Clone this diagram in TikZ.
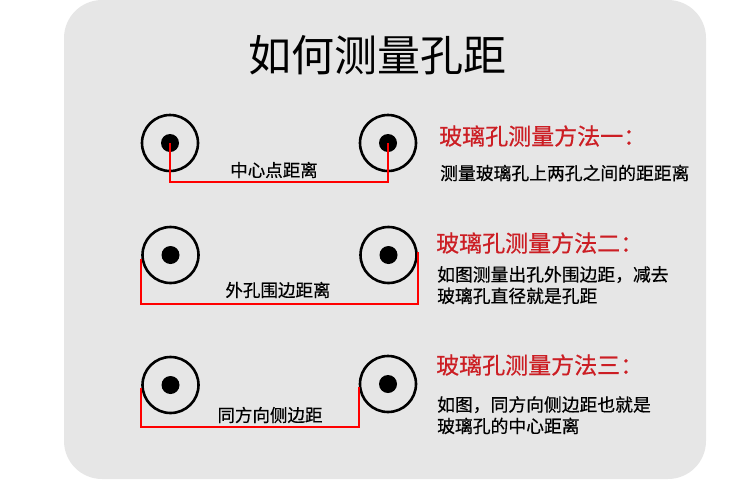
\documentclass[tikz,border=0pt]{standalone}
\usepackage{fontspec}
\newfontfamily\cjk{Noto Sans CJK SC}
\newfontfamily\cjkm[FakeBold=0.5]{Noto Sans CJK SC}
\definecolor{bgray}{HTML}{E6E6E6}
\definecolor{headred}{HTML}{CC1E24}
\definecolor{linered}{HTML}{FF0000}
\begin{document}
\begin{tikzpicture}[x=1pt,y=-1pt,
  hole/.style={circle,draw=black,line width=2.6pt,minimum size=56pt,inner sep=0pt},
  dot/.style={circle,fill=black,minimum size=18pt,inner sep=0pt},
  redline/.style={draw=linered,line width=1.8pt},
  lbl/.style={font=\cjkm\fontsize{17.5}{19}\selectfont,text=black,inner sep=0pt},
  head/.style={font=\cjkm\fontsize{23}{25}\selectfont,text=headred,anchor=west,inner sep=0pt},
  body/.style={font=\cjkm\fontsize{17.8}{21.5}\selectfont,text=black,anchor=west,inner sep=0pt,align=left}]
\useasboundingbox (0,0) rectangle (750,496);
\fill[bgray,rounded corners=38pt] (64,0) rectangle (706,479);
\node[font=\cjk\fontsize{43}{46}\selectfont,inner sep=0pt] (title) at (377,55) {如何测量孔距};
% row 1
\node[hole] (c1a) at (170,143) {};
\node[dot] (d1a) at (c1a.center) {};
\node[hole] (c1b) at (388,143) {};
\node[dot] (d1b) at (c1b.center) {};
\coordinate (b1) at (170,182);
\draw[redline] (d1a.center) -- (b1) -| (d1b.center);
\node[lbl] (l1) at (274,170) {中心点距离};
% row 2
\node[hole] (c2a) at (170.5,255) {};
\node[dot] (d2a) at (c2a.center) {};
\node[hole] (c2b) at (388.5,255) {};
\node[dot] (d2b) at (c2b.center) {};
\coordinate (b2) at (c2a.west |- 0,304);
\draw[redline] ([yshift=-4pt]c2a.west) -- (b2) -| ([yshift=3pt]c2b.east);
\node[lbl] (l2) at (278,290) {外孔围边距离};
% row 3
\node[hole] (c3a) at (170.5,385) {};
\node[dot] (d3a) at (c3a.center) {};
\node[hole] (c3b) at (388,384) {};
\node[dot] (d3b) at (c3b.center) {};
\coordinate (b3) at (c3a.west |- 0,427);
\draw[redline] ([yshift=-3pt]c3a.west) -- (b3) -| ([yshift=-3pt]c3b.west);
\node[lbl] (l3) at (270,415) {同方向侧边距};
% texts
\node[head] (h1) at (439,136) {玻璃孔测量方法一：};
\node[body] (t1) at (440,173) {测量玻璃孔上两孔之间的距距离};
\node[head] (h2) at (436,243) {玻璃孔测量方法二：};
\node[body,anchor=north west] (t2) at (437,266) {如图测量出孔外围边距，减去\\玻璃孔直径就是孔距};
\node[head] (h3) at (436,365) {玻璃孔测量方法三：};
\node[body,anchor=north west] (t3) at (437,396) {如图，同方向侧边距也就是\\玻璃孔的中心距离};
\end{tikzpicture}
\end{document}
